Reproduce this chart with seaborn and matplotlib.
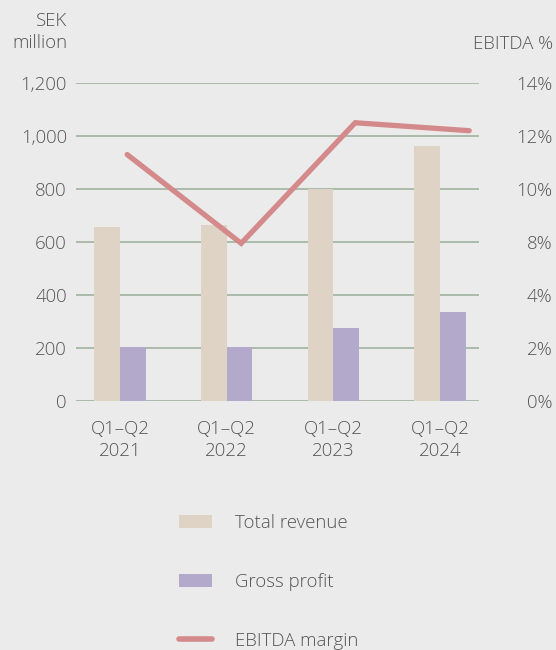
import numpy as np
import pandas as pd
import matplotlib
matplotlib.use("Agg")
import matplotlib.pyplot as plt
import seaborn as sns
from matplotlib.patches import Patch
from matplotlib.lines import Line2D

# ── Data ─────────────────────────────────────────────────────────────────────
periods       = ["Q1–Q2\n2021", "Q1–Q2\n2022", "Q1–Q2\n2023", "Q1–Q2\n2024"]
total_revenue = [655, 663, 800, 962]
gross_profit  = [204, 202, 277, 334]
ebitda_margin = [11.3, 7.9, 12.5, 12.2]

left_ticks   = [0, 200, 400, 600, 800, 1000, 1200]
right_labels = [0, 2, 4, 8, 10, 12, 14]   # as printed on the right axis

# ── Style ────────────────────────────────────────────────────────────────────
BG         = "#ebebeb"
TEXT       = "#555555"
GRID       = "#a5b8a7"
C_REVENUE  = "#dfd3c5"
C_GROSS    = "#b2a9cb"
C_EBITDA   = "#d4898a"
FS         = 13.4

sns.set_theme(style="white")
plt.rcParams["font.family"] = ["Open Sans", "DejaVu Sans"]
plt.rcParams["font.weight"] = "light"
plt.rcParams["text.color"] = TEXT
plt.rcParams["xtick.color"] = TEXT
plt.rcParams["ytick.color"] = TEXT

fig = plt.figure(figsize=(5.56, 6.5), dpi=100, facecolor=BG)
ax_pos = [76 / 556, 1 - 401 / 650, (479 - 76) / 556, (401 - 83) / 650]
ax = fig.add_axes(ax_pos)
ax.set_facecolor(BG)

df = pd.DataFrame({
    "period": periods * 2,
    "value":  total_revenue + gross_profit,
    "series": ["Total revenue"] * 4 + ["Gross profit"] * 4,
})
sns.barplot(data=df, x="period", y="value", hue="series",
            palette=[C_REVENUE, C_GROSS], saturation=1, width=0.48, gap=0,
            linewidth=0, legend=False, ax=ax)
for p in ax.patches:
    p.set_zorder(3)

ax.set_xlim(-0.4125, 3.366)
ax.set_ylim(0, 1200)
ax.set_yticks(left_ticks)
ax.set_yticklabels([f"{v:,}" for v in left_ticks])
ax.grid(False)
# grid lines sit underneath the bars
for v in left_ticks:
    ax.axhline(v, color=GRID, linewidth=1.3, zorder=1)
for s in ax.spines.values():
    s.set_visible(False)
ax.tick_params(axis="y", length=0, pad=6.5, labelsize=FS)
ax.tick_params(axis="x", length=0, pad=14, labelsize=FS)
for lbl in ax.get_xticklabels():
    lbl.set_linespacing(1.25)
ax.set_xlabel("")
ax.set_ylabel("")

# ── EBITDA margin on its own axes (right scale) ─────────────────────────────
ax2 = fig.add_axes(ax_pos, frameon=False)
ax2.patch.set_alpha(0)
positions = np.arange(len(right_labels))
ax2.set_yscale("function", functions=(
    lambda v: np.interp(v, right_labels, positions),
    lambda p: np.interp(p, positions, right_labels)))
line_df = pd.DataFrame({"x": np.arange(len(periods)), "margin": ebitda_margin})
sns.lineplot(data=line_df, x="x", y="margin", color=C_EBITDA, linewidth=3.8,
             solid_capstyle="round", solid_joinstyle="miter", ax=ax2, zorder=3)
ax2.set_xlim(-0.449, 3.086)
ax2.set_ylim(0, 14)
ax2.grid(False)
ax2.set_xticks([])
ax2.set_xlabel("")
ax2.set_ylabel("")
ax2.yaxis.tick_right()
ax2.set_yticks(right_labels)
ax2.set_yticklabels([f"{v}%" for v in right_labels])
ax2.yaxis.set_minor_locator(matplotlib.ticker.NullLocator())
ax2.tick_params(axis="y", length=0, pad=53, labelsize=FS)
for lbl in ax2.get_yticklabels():
    lbl.set_horizontalalignment("right")

# ── Axis titles ──────────────────────────────────────────────────────────────
fig.text(67 / 556, 1 - 32 / 650, "SEK\nmillion", ha="right", va="center",
         fontsize=FS, linespacing=1.25)
fig.text(553 / 556, 1 - 44 / 650, "EBITDA %", ha="right", va="center",
         fontsize=FS)

# ── Legend ───────────────────────────────────────────────────────────────────
handles = [
    Patch(facecolor=C_REVENUE, edgecolor="none", label="Total revenue"),
    Patch(facecolor=C_GROSS, edgecolor="none", label="Gross profit"),
    Line2D([0], [0], color=C_EBITDA, linewidth=4, solid_capstyle="round",
           label="EBITDA margin"),
]
fig.legend(handles=handles, loc="upper left",
           bbox_to_anchor=(179 / 556, 1 - 514 / 650), frameon=False,
           fontsize=FS, handlelength=1.75, handleheight=0.75,
           handletextpad=1.25, labelspacing=2.2, borderpad=0,
           borderaxespad=0)

fig.savefig("out.png", dpi=100, facecolor=BG)
